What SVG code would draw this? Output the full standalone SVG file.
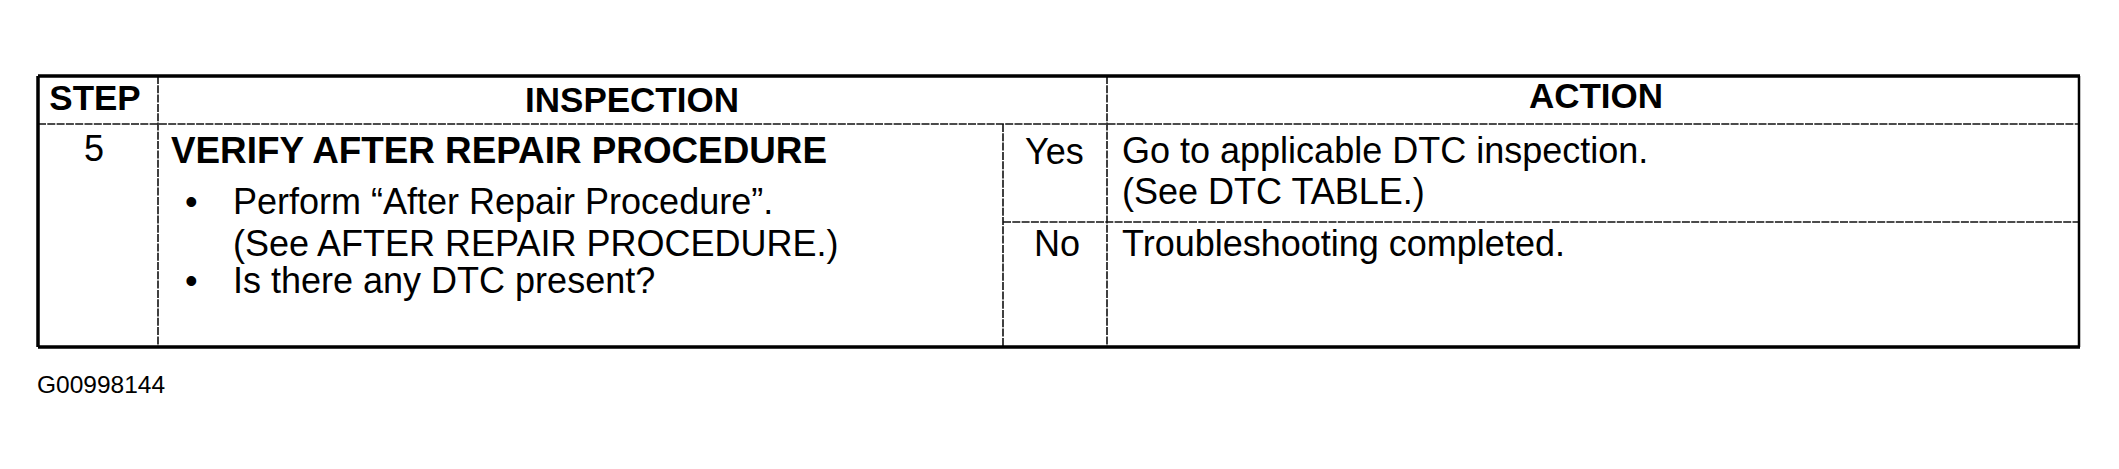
<svg xmlns="http://www.w3.org/2000/svg" width="2119" height="469" viewBox="0 0 2119 469">
<style>
  text { font-family: "Liberation Sans", Arial, sans-serif; fill: #000; }
  .hd { font-weight: bold; font-size: 35px; text-anchor: middle; }
  .bd { font-weight: bold; font-size: 36px; }
  .tx { font-size: 36px; }
  .id { font-size: 24.5px; }
  .outer { fill: none; stroke: #000; stroke-width: 3.5; }
  .inner { fill: none; stroke: #111; stroke-width: 1.6; stroke-dasharray: 8 1.3; }
</style>
<rect x="0" y="0" width="2119" height="469" fill="#fff"/>
<g id="grid">
  <line class="inner" x1="38" y1="124" x2="2080" y2="124"/>
  <line class="inner" x1="158" y1="76" x2="158" y2="347"/>
  <line class="inner" x1="1107" y1="76" x2="1107" y2="347"/>
  <line class="inner" x1="1003" y1="124" x2="1003" y2="347"/>
  <line class="inner" x1="1003" y1="222" x2="2080" y2="222"/>
  <path class="outer" d="M38,76 H2080 M38,347 H2080 M38,76 V347"/>
  <line x1="2079" y1="76" x2="2079" y2="347" stroke="#000" stroke-width="2.5"/>
</g>
<g id="header-step"><text class="hd" x="95" y="110">STEP</text></g>
<g id="header-inspection"><text class="hd" x="632" y="112">INSPECTION</text></g>
<g id="header-action"><text class="hd" x="1596" y="108">ACTION</text></g>
<g id="step-5"><text class="tx" x="94" y="161" text-anchor="middle">5</text></g>
<g id="inspection-5">
  <text class="bd" x="171" y="163" textLength="656" lengthAdjust="spacingAndGlyphs">VERIFY AFTER REPAIR PROCEDURE</text>
  <text class="tx" x="185" y="214">•</text>
  <text class="tx" x="233" y="214">Perform “After Repair Procedure”.</text>
  <text class="tx" x="233" y="256">(See AFTER REPAIR PROCEDURE.)</text>
  <text class="tx" x="185" y="293">•</text>
  <text class="tx" x="233" y="293">Is there any DTC present?</text>
</g>
<g id="result-yes"><text class="tx" x="1025" y="164">Yes</text></g>
<g id="result-no"><text class="tx" x="1034" y="256">No</text></g>
<g id="action-yes">
  <text class="tx" x="1122" y="163">Go to applicable DTC inspection.</text>
  <text class="tx" x="1122" y="204">(See DTC TABLE.)</text>
</g>
<g id="action-no"><text class="tx" x="1122" y="256">Troubleshooting completed.</text></g>
<g id="figure-id"><text class="id" x="37" y="393">G00998144</text></g>
</svg>
